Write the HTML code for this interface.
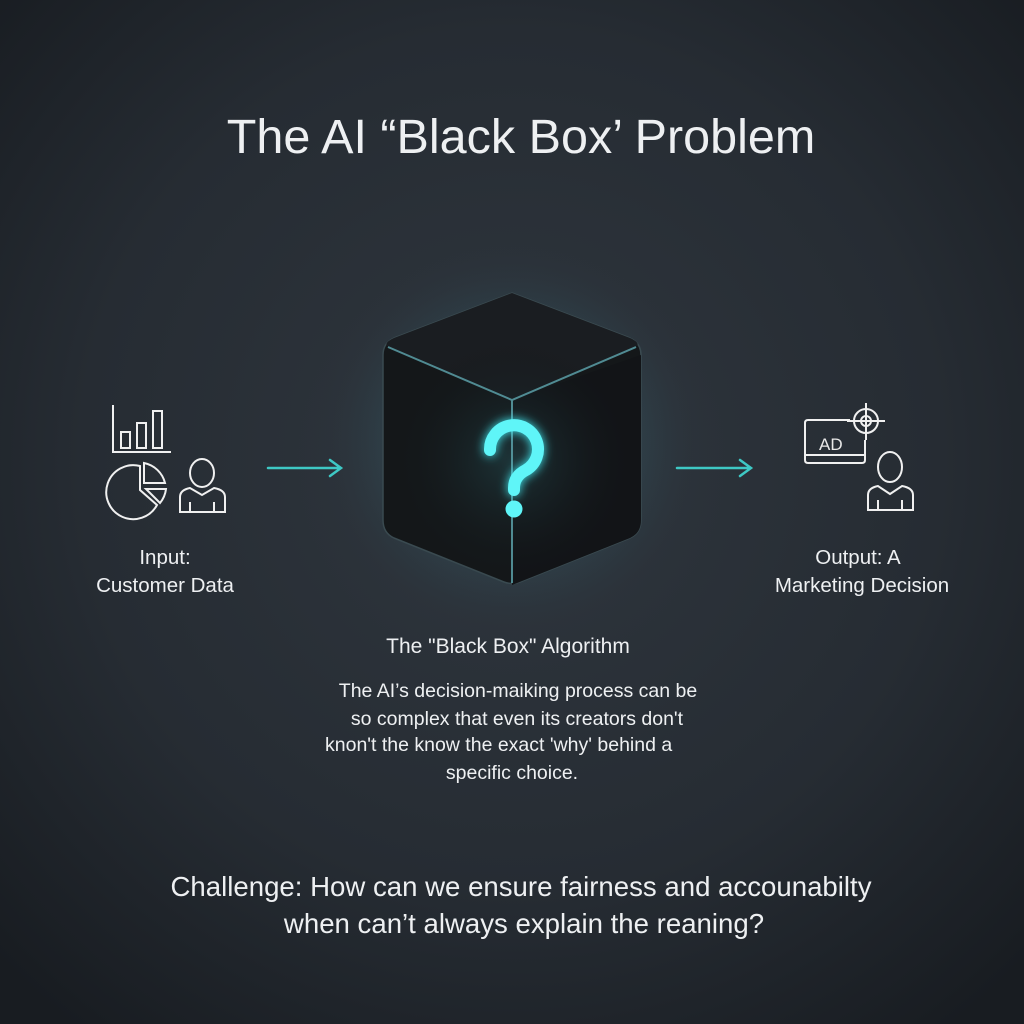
<!DOCTYPE html>
<html><head><meta charset="utf-8"><style>
html,body{margin:0;padding:0;width:1024px;height:1024px;overflow:hidden;background:#1e2329}
svg{display:block}
text{font-family:"Liberation Sans",sans-serif;fill:#eef0f2}
</style></head><body>
<svg width="1024" height="1024" viewBox="0 0 1024 1024" xmlns="http://www.w3.org/2000/svg">
<defs>
<radialGradient id="bg" cx="50%" cy="45%" r="70%">
<stop offset="0" stop-color="#2f363e"/><stop offset="0.6" stop-color="#262c33"/><stop offset="1" stop-color="#181c21"/>
</radialGradient>
<radialGradient id="glow" cx="50%" cy="50%" r="50%">
<stop offset="0" stop-color="#4fb8c8" stop-opacity="0.35"/><stop offset="0.6" stop-color="#3a8a99" stop-opacity="0.15"/><stop offset="1" stop-color="#2a3038" stop-opacity="0"/>
</radialGradient>
<radialGradient id="inner" cx="512" cy="460" r="120" gradientUnits="userSpaceOnUse">
<stop offset="0" stop-color="#1d3438"/><stop offset="1" stop-color="#131619" stop-opacity="0"/>
</radialGradient>
<filter id="bl" x="-50%" y="-50%" width="200%" height="200%"><feGaussianBlur stdDeviation="5"/></filter>
</defs>
<rect width="1024" height="1024" fill="url(#bg)"/>
<ellipse cx="512" cy="440" rx="200" ry="200" fill="url(#glow)"/>
<text x="521" y="153" font-size="48.5" text-anchor="middle">The AI “Black Box’ Problem</text>
<!-- cube -->
<path d="M512 293 L630 338 Q641 343 641 355 L641 520 Q641 533 630 538 L520 582 Q512 585 504 582 L394 538 Q383 533 383 520 L383 355 Q383 343 394 338 Z" fill="#141719" stroke="#3a4a50" stroke-width="1.5"/>
<path d="M512 293 L630 338 Q641 343 636 347 L512 400 L388 347 Q383 343 394 338 Z" fill="#1a1d21"/>
<path d="M512 400 L641 355 L641 520 Q641 533 630 538 L512 585 Z" fill="#121417"/>
<rect x="383" y="290" width="258" height="300" fill="url(#inner)"/>
<path d="M388 347 L512 400 L636 347 M512 400 L512 583" fill="none" stroke="#5fa8b0" stroke-width="2" opacity="0.8"/>
<g stroke="#3fe8f0" stroke-width="12" fill="none" stroke-linecap="round">
<path d="M490 450 A24 24 0 1 1 526 470 Q514 476 514 488 L514 490" filter="url(#bl)"/>
<path d="M490 450 A24 24 0 1 1 526 470 Q514 476 514 488 L514 490" stroke="#5ff5f8"/>
</g>
<circle cx="514" cy="509" r="8.5" fill="#5ff5f8"/>
<!-- arrows -->
<g stroke="#3ec8c4" stroke-width="2.5" fill="none" stroke-linecap="round">
<path d="M268 468 L340 468 M330 460 L341 468 L330 476"/>
<path d="M677 468 L750 468 M740 460 L751 468 L740 476"/>
</g>
<!-- input icons -->
<g stroke="#f0f0f0" stroke-width="2" fill="none">
<path d="M113 405 L113 452 L171 452"/>
<rect x="121" y="432" width="9" height="16"/><rect x="137" y="423" width="9" height="25"/><rect x="153" y="411" width="9" height="37"/>
<path d="M140 466 A27 27 0 1 0 157 505 L140 490 Z"/>
<path d="M144 463 A27 27 0 0 1 165 483 L144 483 Z"/>
<path d="M146 489 L166 489 A27 27 0 0 1 160 503 Z"/>
<ellipse cx="202" cy="473" rx="12" ry="14"/>
<path d="M180 512 L180 497 Q180 490 190 488 L202 495 L214 488 Q225 490 225 497 L225 512 Z M190 512 L190 502 M214 512 L214 502"/>
</g>
<!-- output icons -->
<g stroke="#f0f0f0" stroke-width="2" fill="none">
<path d="M850 420 L808 420 Q805 420 805 423 L805 460 Q805 463 808 463 L862 463 Q865 463 865 460 L865 440 M805 455 L865 455"/>
<circle cx="866" cy="421" r="12"/><circle cx="866" cy="421" r="5"/>
<path d="M866 403 L866 440 M847 421 L885 421"/>
<ellipse cx="890" cy="467" rx="12" ry="15"/>
<path d="M868 510 L868 495 Q868 488 878 486 L890 494 L902 486 Q913 488 913 495 L913 510 Z M878 510 L878 500 M902 510 L902 500"/>
</g>
<text x="819" y="450" font-size="17" style="fill:#e8e8e8">AD</text>
<text x="165" y="564" font-size="20.5" text-anchor="middle">Input:</text>
<text x="165" y="592" font-size="20.5" text-anchor="middle">Customer Data</text>
<text x="858" y="564" font-size="20.5" text-anchor="middle">Output: A</text>
<text x="862" y="592" font-size="20.5" text-anchor="middle">Marketing Decision</text>
<text x="508" y="653" font-size="21" text-anchor="middle">The "Black Box" Algorithm</text>
<g font-size="19.5">
<text x="518" y="697" text-anchor="middle">The AI’s decision-maiking process can be</text>
<text x="517" y="725" text-anchor="middle">so complex that even its creators don't</text>
<text x="325" y="751">knon't the know the exact 'why' behind a</text>
<text x="512" y="779" text-anchor="middle">specific choice.</text>
</g>
<text x="521" y="896" font-size="27.6" text-anchor="middle">Challenge: How can we ensure fairness and accounabilty</text>
<text x="524" y="933" font-size="27.6" text-anchor="middle">when  can’t always explain the reaning?</text>
</svg>
</body></html>
